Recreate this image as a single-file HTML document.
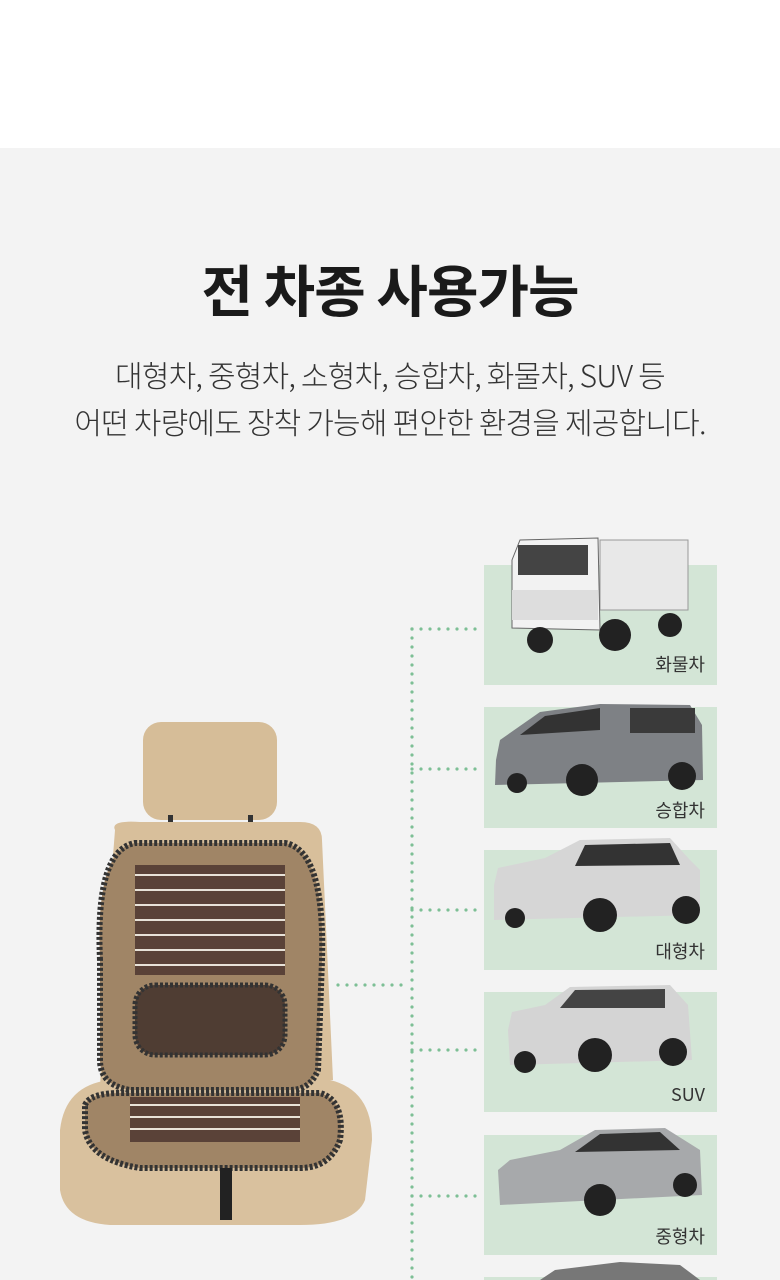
<!DOCTYPE html>
<html><head><meta charset="utf-8"><style>
html,body{margin:0;padding:0}
body{width:780px;height:1280px;overflow:hidden;background:#f3f3f3;position:relative;font-family:"Liberation Sans","Noto Sans CJK KR",sans-serif}
.top{position:absolute;left:0;top:0;width:780px;height:148px;background:#fff}
.t{position:absolute;left:0;width:780px;text-align:center;color:#1a1a1a}
h1{position:absolute;top:248px;left:0;width:780px;margin:0;text-align:center;font-size:56px;font-weight:bold;color:#1a1a1a;letter-spacing:-1px;font-family:"Noto Sans CJK KR",sans-serif}
.s{font-size:30px;font-weight:300;color:#333;letter-spacing:-0.8px;font-family:"Noto Sans CJK KR",sans-serif}
svg{position:absolute;left:0;top:0}
.lbl{font-family:"Noto Sans CJK KR",sans-serif;font-size:18px;fill:#333}
</style></head><body>
<div class="top"></div>
<h1>전 차종 사용가능</h1>
<div class="t s" style="top:352px">대형차, 중형차, 소형차, 승합차, 화물차, SUV 등</div>
<div class="t s" style="top:399px">어떤 차량에도 장착 가능해 편안한 환경을 제공합니다.</div>
<svg width="780" height="1280" viewBox="0 0 780 1280">
<g stroke="#7dbf95" stroke-width="3.2" stroke-linecap="round" stroke-dasharray="0 9" fill="none">
<line x1="412" y1="629" x2="412" y2="1280"/>
<line x1="412" y1="629" x2="477" y2="629"/>
<line x1="412" y1="769" x2="477" y2="769"/>
<line x1="412" y1="910" x2="477" y2="910"/>
<line x1="412" y1="1050" x2="477" y2="1050"/>
<line x1="412" y1="1196" x2="477" y2="1196"/>
<line x1="338" y1="985" x2="405" y2="985"/>
</g>
<g fill="#d3e5d6">
<rect x="484" y="565" width="233" height="120"/>
<rect x="484" y="707" width="233" height="121"/>
<rect x="484" y="850" width="233" height="120"/>
<rect x="484" y="992" width="233" height="120"/>
<rect x="484" y="1135" width="233" height="120"/>
<rect x="484" y="1277" width="233" height="10"/>
</g>
<!-- truck -->
<rect x="600" y="540" width="88" height="70" fill="#e8e8e8" stroke="#999"/>
<path d="M512 560 L520 540 L598 538 L600 630 L512 628 Z" fill="#f2f2f2" stroke="#666"/>
<rect x="518" y="545" width="70" height="30" fill="#444"/>
<rect x="512" y="590" width="86" height="30" fill="#ddd"/>
<circle cx="540" cy="640" r="13" fill="#222"/><circle cx="615" cy="635" r="16" fill="#222"/><circle cx="670" cy="625" r="12" fill="#222"/>
<!-- van -->
<path d="M496 760 L500 740 L540 712 L600 704 L690 705 L702 725 L703 780 L495 785 Z" fill="#7e8185"/>
<path d="M545 716 L600 708 L600 730 L520 735 Z" fill="#333"/><rect x="630" y="708" width="65" height="25" fill="#3a3a3a"/>
<circle cx="582" cy="780" r="16" fill="#222"/><circle cx="682" cy="776" r="14" fill="#222"/><circle cx="517" cy="783" r="10" fill="#222"/>
<!-- suv1 -->
<path d="M494 885 L498 868 L545 858 L580 840 L670 838 L690 860 L700 870 L700 915 L494 920 Z" fill="#d6d6d6"/>
<path d="M585 845 L670 843 L680 865 L575 866 Z" fill="#333"/>
<circle cx="600" cy="915" r="17" fill="#222"/><circle cx="686" cy="910" r="14" fill="#222"/><circle cx="515" cy="918" r="10" fill="#222"/>
<!-- suv2 -->
<path d="M508 1030 L512 1012 L545 1005 L570 987 L670 985 L688 1005 L692 1060 L510 1065 Z" fill="#d4d4d4"/>
<path d="M575 990 L665 989 L665 1008 L560 1008 Z" fill="#444"/>
<circle cx="595" cy="1055" r="17" fill="#222"/><circle cx="673" cy="1052" r="14" fill="#222"/><circle cx="525" cy="1062" r="11" fill="#222"/>
<!-- sedan -->
<path d="M498 1170 L510 1160 L560 1150 L595 1130 L665 1128 L700 1150 L702 1195 L500 1205 Z" fill="#a7a9ab"/>
<path d="M600 1134 L660 1132 L680 1150 L575 1152 Z" fill="#333"/>
<circle cx="600" cy="1200" r="16" fill="#222"/><circle cx="685" cy="1185" r="12" fill="#222"/>
<path d="M555 1270 L620 1262 L680 1265 L700 1280 L540 1280 Z" fill="#777"/>
<text class="lbl" x="705" y="671" text-anchor="end">화물차</text>
<text class="lbl" x="705" y="817" text-anchor="end">승합차</text>
<text class="lbl" x="705" y="958" text-anchor="end">대형차</text>
<text class="lbl" x="705" y="1101" text-anchor="end">SUV</text>
<text class="lbl" x="705" y="1243" text-anchor="end">중형차</text>
<!-- seat -->
<rect x="143" y="722" width="134" height="98" rx="18" fill="#d6bd98"/>
<rect x="168" y="815" width="5" height="12" fill="#333"/><rect x="248" y="815" width="5" height="12" fill="#333"/>
<path d="M115 830 Q110 820 140 822 L300 822 Q322 822 322 840 L333 1080 L100 1090 L105 960 Z" fill="#d8bf9b"/>
<path d="M60 1130 Q65 1085 110 1080 L330 1080 Q372 1090 372 1140 L365 1200 Q355 1225 300 1225 L110 1225 Q65 1222 60 1190 Z" fill="#d9c19e"/>
<path d="M100 960 Q95 850 135 843 L285 843 Q325 850 322 960 L318 1070 Q310 1090 290 1090 L130 1090 Q100 1085 100 1060 Z" fill="#a08566" stroke="#333" stroke-width="6" stroke-dasharray="3 2"/>
<rect x="135" y="865" width="150" height="110" fill="#5a4238"/>
<g stroke="#e8e2d8" stroke-width="2">
<line x1="135" y1="875" x2="285" y2="875"/><line x1="135" y1="890" x2="285" y2="890"/><line x1="135" y1="905" x2="285" y2="905"/><line x1="135" y1="920" x2="285" y2="920"/><line x1="135" y1="935" x2="285" y2="935"/><line x1="135" y1="950" x2="285" y2="950"/><line x1="135" y1="965" x2="285" y2="965"/>
</g>
<rect x="135" y="985" width="150" height="70" rx="20" fill="#4f3d33" stroke="#333" stroke-width="5" stroke-dasharray="3 2"/>
<path d="M85 1105 Q90 1093 120 1093 L320 1093 Q345 1100 340 1140 Q330 1168 300 1168 L140 1168 Q90 1160 85 1130 Z" fill="#a08566" stroke="#333" stroke-width="6" stroke-dasharray="3 2"/>
<rect x="130" y="1097" width="170" height="45" fill="#5a4238"/>
<g stroke="#e8e2d8" stroke-width="2"><line x1="130" y1="1105" x2="300" y2="1105"/><line x1="130" y1="1117" x2="300" y2="1117"/><line x1="130" y1="1129" x2="300" y2="1129"/></g>
<rect x="220" y="1168" width="12" height="52" fill="#222"/>
</svg>
</body></html>
